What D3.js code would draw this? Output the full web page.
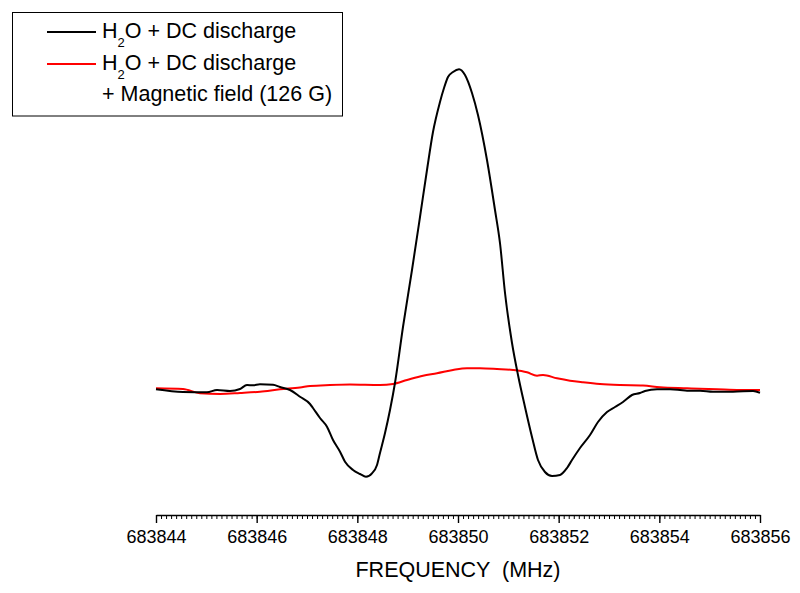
<!DOCTYPE html>
<html>
<head>
<meta charset="utf-8">
<script src="https://cdn.jsdelivr.net/npm/d3@7"></script>
<style>
  html, body { margin: 0; padding: 0; background: #fff; }
  svg { display: block; font-family: "Liberation Sans", Arial, sans-serif; }
</style>
</head>
<body>
<svg id="chart" width="800" height="593"></svg>
<script>
// ---- Data (frequency in MHz, intensity in arbitrary units) ----
const blackFreq = [683844.000, 683844.536, 683845.013, 683845.212, 683845.470, 683845.669, 683845.808, 683845.927,
  683846.066, 683846.325, 683846.464, 683846.662, 683846.861, 683847.060, 683847.119, 683847.258, 683847.397,
  683847.517, 683847.656, 683847.755, 683847.914, 683848.053, 683848.172, 683848.291, 683848.391, 683848.450,
  683848.550, 683848.649, 683848.748, 683848.907, 683849.086, 683849.245, 683849.384, 683849.503, 683849.642,
  683849.722, 683849.801, 683849.901, 683850.020, 683850.139, 683850.278, 683850.397, 683850.576, 683850.735,
  683850.834, 683850.934, 683851.073, 683851.192, 683851.331, 683851.470, 683851.589, 683851.728, 683851.868,
  683852.026, 683852.166, 683852.265, 683852.424, 683852.623, 683852.781, 683852.960, 683853.119, 683853.278,
  683853.457, 683853.616, 683853.715, 683853.954, 683854.212, 683854.411, 683854.550, 683854.808, 683855.066,
  683855.464, 683855.861, 683856.000];
const blackIntensity = [0.007, -0.02, -0.023, 0.00, -0.01, 0.01, 0.05, 0.047,
  0.057, 0.053, 0.03, 0.00, -0.067, -0.14, -0.18, -0.28, -0.367,
  -0.50, -0.617, -0.717, -0.80, -0.84, -0.867, -0.833, -0.75, -0.63,
  -0.43, -0.20, 0.07, 0.63, 1.20, 1.73, 2.20, 2.58, 2.88,
  3.02, 3.13, 3.18, 3.207, 3.15, 2.97, 2.75, 2.30, 1.80,
  1.47, 0.97, 0.47, 0.15, -0.17, -0.47, -0.70, -0.82, -0.86,
  -0.85, -0.78, -0.70, -0.58, -0.45, -0.32, -0.22, -0.17, -0.12,
  -0.05, -0.03, -0.01, 0.007, 0.007, 0.0, -0.007, -0.007, -0.017,
  -0.017, -0.01, -0.027];

const redFreq = [683844.000, 683844.536, 683844.874, 683845.272, 683845.669, 683846.066, 683846.464, 683846.861,
  683847.060, 683847.457, 683847.854, 683848.450, 683848.709, 683848.987, 683849.305, 683849.583, 683849.901,
  683850.179, 683850.437, 683850.775, 683851.093, 683851.371, 683851.570, 683851.689, 683851.967, 683852.225,
  683852.483, 683852.821, 683853.219, 683853.676, 683854.013, 683854.550, 683855.146, 683855.603, 683856.000];
const redIntensity = [0.017, 0.01, -0.033, -0.04, -0.03, -0.017, 0.007, 0.025,
  0.04, 0.05, 0.055, 0.05, 0.06, 0.10, 0.143, 0.167, 0.20,
  0.217, 0.217, 0.21, 0.20, 0.177, 0.143, 0.15, 0.117, 0.093,
  0.077, 0.06, 0.05, 0.045, 0.027, 0.017, 0.007, 0.0, 0.0];

const majorTicks = [683844, 683846, 683848, 683850, 683852, 683854, 683856];
const xTitle = "FREQUENCY  (MHz)";
const legendLabels = ["H", "2", "O + DC discharge"];
const legendLabel3 = "+ Magnetic field (126 G)";

// ---- Scales ----
const svg = d3.select("#chart");
const x = d3.scaleLinear().domain([683844, 683856]).range([156, 760]);
const y = d3.scaleLinear().domain([-1.2, 3.3]).range([510, 60]);
const axisY = 515;

// ---- Axis ----
const minorTicks = d3.range(0, 121).map(i => +(683844 + i * 0.1).toFixed(1));
svg.append("g")
  .attr("transform", `translate(0,${axisY})`)
  .call(d3.axisBottom(x).tickValues(minorTicks).tickSize(4).tickSizeOuter(0).tickFormat(""))
  .call(g => g.selectAll("line").attr("stroke", "#000").attr("stroke-width", 1))
  .call(g => g.select(".domain").attr("stroke", "#000").attr("stroke-width", 1.4));

svg.append("g")
  .attr("transform", `translate(0,${axisY})`)
  .call(d3.axisBottom(x).tickValues(majorTicks).tickSize(8).tickSizeOuter(0).tickPadding(7).tickFormat(d3.format("d")))
  .call(g => g.select(".domain").remove())
  .call(g => g.selectAll("line").attr("stroke", "#000").attr("stroke-width", 1.4))
  .call(g => g.selectAll("text").attr("font-size", 18).attr("fill", "#000")
    .attr("font-family", "'Liberation Sans', Arial, sans-serif"));

svg.append("text")
  .attr("x", (x.range()[0] + x.range()[1]) / 2)
  .attr("y", 577)
  .attr("text-anchor", "middle")
  .attr("font-size", 21.5)
  .attr("fill", "#000")
  .style("white-space", "pre")
  .attr("xml:space", "preserve")
  .text(xTitle);

// ---- Lines ----
const line = d3.line().x(d => x(d[0])).y(d => y(d[1])).curve(d3.curveMonotoneX);
const redData = redFreq.map((f, i) => [f, redIntensity[i]]);
const blackData = blackFreq.map((f, i) => [f, blackIntensity[i]]);

svg.append("path").datum(redData)
  .attr("d", line).attr("fill", "none").attr("stroke", "#ff0000").attr("stroke-width", 2);
svg.append("path").datum(blackData)
  .attr("d", line).attr("fill", "none").attr("stroke", "#000").attr("stroke-width", 2);

// ---- Legend ----
const lg = svg.append("g");
lg.append("rect").attr("x", 12.5).attr("y", 12.5).attr("width", 330).attr("height", 103.5)
  .attr("fill", "#fff").attr("stroke", "#000").attr("stroke-width", 1);

const rows = [{ c: "#000", ly: 32, ty: 38 }, { c: "#ff0000", ly: 64, ty: 70 }];
rows.forEach(r => {
  lg.append("line").attr("x1", 47).attr("x2", 96).attr("y1", r.ly).attr("y2", r.ly)
    .attr("stroke", r.c).attr("stroke-width", 2);
  const t = lg.append("text").attr("x", 102).attr("y", r.ty).attr("font-size", 21.5).attr("fill", "#000");
  t.append("tspan").text(legendLabels[0]);
  t.append("tspan").attr("font-size", 13).attr("dy", 9).text(legendLabels[1]);
  t.append("tspan").attr("dy", -9).text(legendLabels[2]);
});
lg.append("text").attr("x", 102).attr("y", 101).attr("font-size", 21.5).attr("fill", "#000").text(legendLabel3);
</script>
</body>
</html>
